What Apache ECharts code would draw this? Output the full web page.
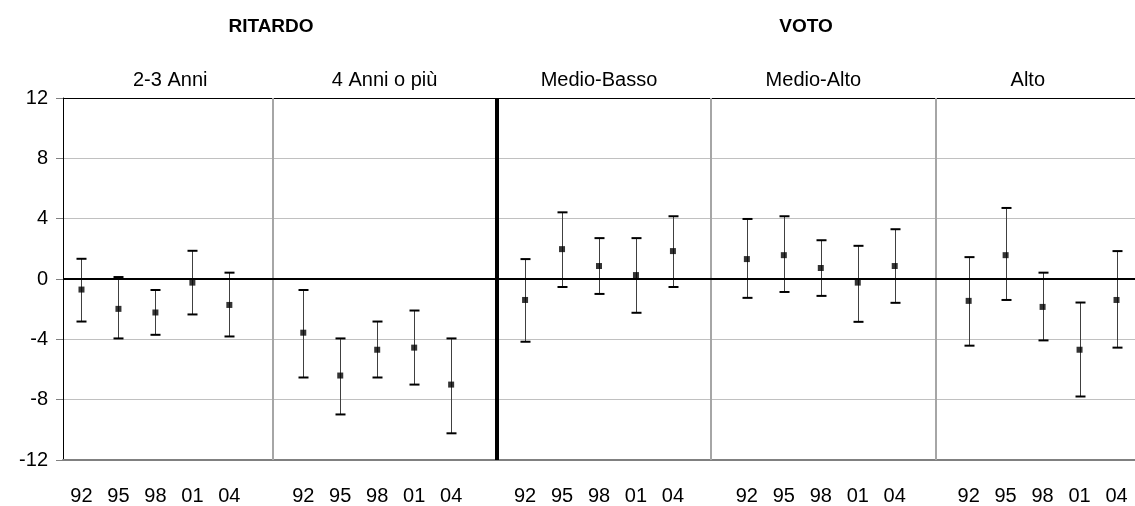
<!DOCTYPE html>
<html>
<head>
<meta charset="utf-8">
<script src="https://cdn.jsdelivr.net/npm/echarts@6/dist/echarts.min.js"></script>
<style>
  html, body { margin: 0; padding: 0; background: #fff; }
  #chart { width: 1135px; height: 506px; }
</style>
</head>
<body>
<div id="chart"></div>
<script>
// Survey years shown under every panel
const years = ['92', '95', '98', '01', '04'];
// Panel headings and their groups
const panels = ['2-3 Anni', '4 Anni o più', 'Medio-Basso', 'Medio-Alto', 'Alto'];
const groups = ['RITARDO', 'VOTO'];
const yTicks = [-12, -8, -4, 0, 4, 8, 12];

// Point estimates, one array per panel
const est23Anni   = [-0.70, -1.98, -2.22, -0.24, -1.72];
const est4Anni    = [-3.56, -6.40, -4.69, -4.55, -7.00];
const estMedBasso = [-1.39,  1.98,  0.86,  0.26,  1.85];
const estMedAlto  = [ 1.32,  1.58,  0.73, -0.24,  0.86];
const estAlto     = [-1.45,  1.58, -1.85, -4.69, -1.39];

// Lower bounds of the confidence intervals
const low23Anni   = [-2.82, -3.94, -3.70, -2.35, -3.81];
const low4Anni    = [-6.53, -8.98, -6.53, -7.00, -10.23];
const lowMedBasso = [-4.16, -0.53, -0.99, -2.24, -0.53];
const lowMedAlto  = [-1.25, -0.86, -1.12, -2.84, -1.58];
const lowAlto     = [-4.42, -1.39, -4.07, -7.79, -4.55];

// Upper bounds of the confidence intervals
const high23Anni   = [1.34, 0.13, -0.73, 1.87, 0.42];
const high4Anni    = [-0.73, -3.94, -2.82, -2.09, -3.94];
const highMedBasso = [1.32, 4.42, 2.71, 2.71, 4.16];
const highMedAlto  = [3.98, 4.16, 2.57, 2.20, 3.30];
const highAlto     = [1.45, 4.71, 0.42, -1.56, 1.85];

const estimates = [est23Anni, est4Anni, estMedBasso, estMedAlto, estAlto];
const lows = [low23Anni, low4Anni, lowMedBasso, lowMedAlto, lowAlto];
const highs = [high23Anni, high4Anni, highMedBasso, highMedAlto, highAlto];

// Panel dividers on a continuous copy of the category scale
const dividerPos = [5.18, 11.23, 17.01, 23.11];
const dividerStyle = [
  { color: '#a6a6a6', width: 2 },
  { color: '#000000', width: 4 },
  { color: '#a6a6a6', width: 2 },
  { color: '#a6a6a6', width: 2 }
];

// Category slots: five years per panel, with an empty slot between panels
const categories = [];
const points = [];
const bars = [];
panels.forEach((p, pi) => {
  years.forEach((y, yi) => {
    const idx = categories.length;
    categories.push(y);
    points.push([idx, estimates[pi][yi]]);
    bars.push([idx, lows[pi][yi], highs[pi][yi]]);
  });
  if (pi < panels.length - 1) categories.push('');
});

const FONT = "'Liberation Sans', Arial, sans-serif";
const LABEL_SIZE = 20;
const chart = echarts.init(document.getElementById('chart'), null, { renderer: 'canvas' });

chart.setOption({
  animation: false,
  backgroundColor: '#ffffff',
  grid: { left: 63, right: 0, top: 98, bottom: 45, containLabel: false },
  graphic: groups.map((g, i) => ({
    type: 'text',
    x: i === 0 ? 271 : 806,
    y: 27,
    style: {
      text: g,
      font: 'bold 19px ' + FONT,
      fill: '#000',
      textAlign: 'center',
      textVerticalAlign: 'middle'
    }
  })),
  xAxis: [
    {
      type: 'category',
      data: categories,
      position: 'bottom',
      boundaryGap: true,
      axisLine: { onZero: false, lineStyle: { color: '#808080', width: 2 } },
      axisTick: { show: false },
      axisLabel: { interval: 0, margin: 26, color: '#000', fontSize: LABEL_SIZE, fontFamily: FONT },
      splitLine: { show: false }
    },
    {
      type: 'category',
      data: panels,
      position: 'top',
      axisLine: { onZero: false, lineStyle: { color: '#000', width: 1 } },
      axisTick: { show: false },
      axisLabel: { interval: 0, margin: 8, color: '#000', fontSize: LABEL_SIZE, fontFamily: FONT },
      splitLine: { show: false }
    },
    {
      type: 'value',
      min: -0.5,
      max: categories.length - 0.5,
      show: false
    }
  ],
  yAxis: {
    type: 'value',
    min: -12,
    max: 12,
    interval: 4,
    axisLine: { show: true, onZero: false, lineStyle: { color: '#000', width: 1 } },
    axisTick: { show: true, length: 7, lineStyle: { color: '#808080' } },
    axisLabel: { margin: 15, color: '#000', fontSize: LABEL_SIZE, fontFamily: FONT,
      formatter: v => (yTicks.indexOf(v) >= 0 ? String(v) : '') },
    splitLine: {
      show: true,
      lineStyle: { color: ['#808080', '#c0c0c0', '#c0c0c0', '#000000', '#c0c0c0', '#c0c0c0', '#000000'], width: 1 }
    }
  },
  series: [
    {
      // panel dividers
      type: 'line',
      xAxisIndex: 2,
      data: [],
      markLine: {
        silent: true,
        symbol: ['none', 'none'],
        label: { show: false },
        data: dividerPos.map((x, i) => ({ xAxis: x, lineStyle: { color: dividerStyle[i].color, width: dividerStyle[i].width, type: 'solid' } }))
      }
    },
    {
      // zero reference line
      type: 'line',
      data: [],
      markLine: {
        silent: true,
        symbol: ['none', 'none'],
        label: { show: false },
        data: [{ yAxis: 0, lineStyle: { color: '#000', width: 2, type: 'solid' } }]
      }
    },
    {
      // confidence intervals
      type: 'custom',
      xAxisIndex: 0,
      data: bars,
      z: 3,
      renderItem: (params, api) => {
        const x = api.value(0);
        const lo = api.coord([x, api.value(1)]);
        const hi = api.coord([x, api.value(2)]);
        const cx = Math.round(lo[0]) + 0.5;
        const half = 5;
        return {
          type: 'group',
          children: [
            { type: 'line', shape: { x1: cx, y1: lo[1], x2: cx, y2: hi[1] }, style: { stroke: '#404040', lineWidth: 1 } },
            { type: 'line', shape: { x1: cx - half, y1: lo[1], x2: cx + half, y2: lo[1] }, style: { stroke: '#000', lineWidth: 2 } },
            { type: 'line', shape: { x1: cx - half, y1: hi[1], x2: cx + half, y2: hi[1] }, style: { stroke: '#000', lineWidth: 2 } }
          ]
        };
      }
    },
    {
      // point estimates
      type: 'scatter',
      xAxisIndex: 0,
      data: points,
      symbol: 'rect',
      symbolSize: 6,
      z: 4,
      itemStyle: { color: '#000' }
    }
  ]
});
</script>
</body>
</html>
